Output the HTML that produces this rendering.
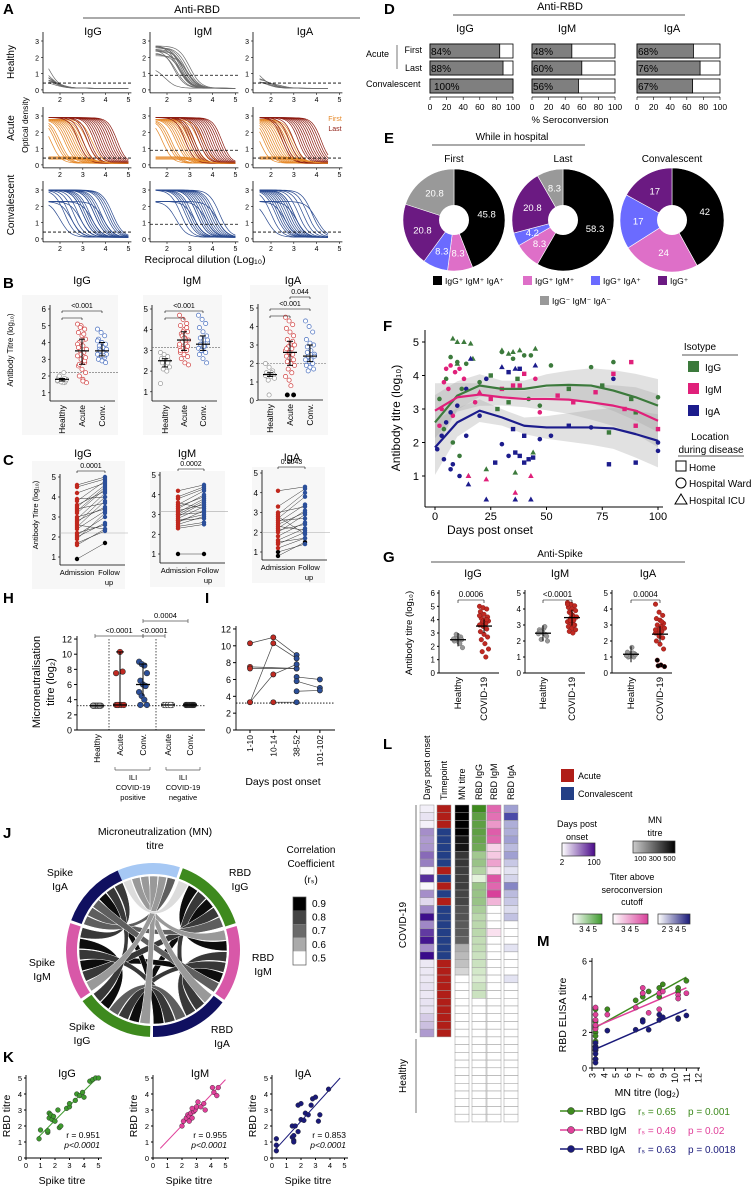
<!DOCTYPE html>
<html><head><meta charset="utf-8">
<style>
html,body{margin:0;padding:0;background:#fff}
svg{display:block;font-family:"Liberation Sans",sans-serif}
</style></head>
<body>
<svg id="fig" width="753" height="1188" viewBox="0 0 753 1188"></svg>
<script>
// ===== DATA =====
const aHealthyIgG=[[2.5,1.5],[1.4,1.6],[1.2,1.6],[1.0,1.7],[0.9,1.8],[0.8,1.7],[0.7,1.9],[0.6,2.0],[0.5,2.1],[0.5,1.8]];
const aHealthyIgM=[[2.7,2.5],[2.7,2.6],[2.6,2.7],[2.6,2.8],[2.6,2.9],[2.5,2.5],[2.5,2.7],[2.4,2.6],[2.4,2.8],[2.3,2.4],[2.2,2.6],[2.7,3.0],[2.1,2.9],[1.4,1.9],[2.5,2.3]];
const aHealthyIgA=[[1.4,1.6],[0.8,1.9],[0.7,2.0],[0.6,1.8],[0.5,2.2],[0.5,2.0],[0.45,2.4]];
const aAcuteRed=[[3.3,3.5,3.7,3.8,3.9,4.0,4.1,4.2,4.3,4.4,3.0,3.6,4.5,2.8,3.2],[3.0,3.2,3.4,3.6,3.8,4.0,4.1,4.2,4.3,2.8,3.5,3.9,4.4,3.1,3.7],[2.8,3.0,3.2,3.4,3.6,3.7,3.8,4.0,4.1,2.6,3.3,3.9,2.5,3.5,4.2]];
const aAcuteOrange=[[1.6,1.8,2.0,2.2,2.4,2.5,2.7,2.8,3.0,3.2,3.4,2.3,1.9,2.6,2.9],[1.8,2.0,2.2,2.4,2.6,2.8,3.0,3.2,3.4,2.5,2.9,2.1,3.6,2.7,3.1],[1.5,1.7,1.9,2.1,2.3,2.5,2.7,2.9,2.0,2.4,2.6,1.8,3.0,2.2,2.8]];
const aConv=[[2.0,2.2,2.4,2.6,2.8,2.9,3.0,3.1,3.2,3.3,3.4,3.5,3.6,3.7,3.8,3.9,4.0,4.1,4.2,4.3,2.5,3.0,3.5],[2.4,2.6,2.8,3.0,3.1,3.2,3.3,3.4,3.5,3.6,3.7,3.8,3.9,4.0,4.1,4.2,4.3,2.9,3.3,3.7],[1.8,2.0,2.2,2.4,2.5,2.6,2.7,2.8,2.9,3.0,3.1,3.2,3.4,3.6,3.8,4.0,2.3,2.6,3.0]];
const aCutoff=[0.42,0.9,0.42];
const bCats=["Healthy","Acute","Conv."];
const bIgG=[[1.7,1.8,1.6,1.9,1.8,1.7,2.0,1.6,1.8,1.7,2.2,1.75,1.65,1.85],[5.1,5.0,4.8,4.6,4.4,4.2,4.0,3.8,3.6,3.5,3.4,3.2,3.0,2.8,2.6,2.4,2.2,2.0,1.8,1.6,4.9,4.5,3.9,3.3,2.9,3.7,4.1,3.1,2.7,1.7],[4.8,4.6,4.4,4.2,4.0,3.9,3.8,3.7,3.6,3.5,3.4,3.3,3.2,3.1,3.0,2.9,2.8,3.6,3.4,3.3,3.5,3.2,4.1]];
const bIgM=[[2.9,2.8,2.7,2.6,2.5,2.5,2.4,2.3,2.2,2.1,2.0,1.4,2.6,2.4],[4.7,4.5,4.3,4.2,4.0,3.9,3.8,3.6,3.5,3.4,3.3,3.2,3.1,3.0,2.9,2.8,2.7,2.6,2.4,2.3,3.7,3.5,3.3,3.9,4.1,3.0,3.6,3.2],[4.7,4.5,4.3,4.1,3.9,3.7,3.6,3.5,3.4,3.3,3.2,3.1,3.0,2.9,2.8,2.6,2.4,3.3,3.2,3.5,3.0]];
const bIgA=[[2.0,1.8,1.6,1.5,1.4,1.4,1.3,1.3,1.2,1.1,1.5,1.35,0.3],[4.5,4.3,4.1,3.9,3.7,3.5,3.3,3.1,3.0,2.9,2.8,2.7,2.6,2.5,2.4,2.3,2.2,2.1,2.0,1.9,1.7,1.5,1.3,1.1,3.2,2.8,2.6,0.3,0.3,0.8],[4.3,4.0,3.7,3.3,3.1,3.0,2.9,2.7,2.5,2.4,2.3,2.2,2.1,2.0,1.9,1.8,1.7,2.6,2.2,2.4,1.6]];
const cIgG=[[0.9,1.7],[1.6,2.4],[1.7,2.3],[2.0,2.7],[2.2,2.6],[2.4,3.3],[2.5,3.8],[2.7,4.0],[2.9,4.2],[3.0,3.4],[3.2,4.4],[3.4,3.7],[3.5,4.6],[3.6,4.3],[3.8,4.8],[3.9,4.0],[4.5,4.9],[4.6,5.0],[2.1,3.0],[2.8,3.5],[3.3,4.5],[1.9,3.2],[4.2,4.7],[2.6,2.4]];
const cIgM=[[1.0,1.0],[2.3,2.5],[2.5,2.9],[2.6,3.2],[2.7,3.0],[2.8,3.4],[2.9,3.6],[3.0,3.1],[3.1,3.8],[3.2,3.5],[3.3,4.0],[3.5,4.2],[3.6,3.3],[3.8,4.3],[3.9,4.4],[4.2,4.5],[2.4,2.6],[3.0,3.7],[3.4,3.9],[2.7,2.8]];
const cIgA=[[0.8,1.5],[1.0,1.4],[1.2,1.7],[1.4,2.0],[1.6,2.2],[1.8,2.5],[2.0,2.9],[2.2,3.1],[2.3,2.1],[2.4,3.0],[2.5,3.4],[2.6,2.7],[2.7,3.8],[2.8,1.9],[3.0,3.3],[3.3,4.2],[4.1,4.3],[2.1,2.4],[1.5,1.7],[2.9,4.0]];
const dRows=["First","Last","Convalescent"];
const dIgG=[84,88,100],dIgM=[48,60,56],dIgA=[68,76,67];
const eFirst=[45.8,8.3,8.3,20.8,20.8];
const eLast=[58.3,8.3,4.2,20.8,8.3];
const eConv=[42,24,17,17,0];
const eColors=["#000","#de6fc8","#6b6bff","#6b1a82","#999"];
const fDays=[0,10,20,30,40,50,60,70,80,90,100];
const fIgG=[2.6,3.4,3.7,3.6,3.6,3.7,3.72,3.7,3.55,3.35,3.1];
const fIgM=[2.95,3.35,3.43,3.35,3.3,3.3,3.28,3.2,3.1,2.95,2.65];
const fIgA=[1.85,2.6,2.95,2.75,2.5,2.45,2.45,2.45,2.42,2.25,2.05];
const fPts=[[8,5.1,0,2],[10,5.0,0,2],[13,5.0,0,2],[16,4.95,0,2],[30,4.75,0,2],[33,4.65,0,2],[35,4.7,0,2],[38,4.75,0,2],[45,4.8,0,2],[17,4.5,0,2],[10,4.35,0,2],
[7,4.55,0,1],[10,4.4,0,1],[14,4.35,0,1],[30,4.7,0,1],[35,4.5,0,1],[40,4.6,0,1],[43,4.6,0,1],[52,4.3,0,1],[70,4.25,0,1],[80,4.4,0,1],[5,3.9,0,1],[12,3.6,0,1],[20,3.8,0,1],[25,4.0,0,0],[37,3.9,0,0],[42,3.3,0,1],[60,3.6,0,0],[75,3.7,0,0],[88,3.3,0,0],[100,3.35,0,1],[2,3.3,0,1],[4,2.4,0,1],[8,2.0,0,1],[11,1.6,0,1],[15,1.0,0,2],[23,1.2,0,2],[36,1.1,0,2],[44,1.7,0,2],[47,3.1,0,1],[78,2.3,0,0],[90,2.9,0,0],[28,3.0,0,0],[33,3.2,0,0],
[5,4.2,1,1],[7,4.3,1,1],[9,4.1,1,1],[11,4.2,1,1],[13,3.9,1,1],[4,3.8,1,1],[6,3.6,1,1],[88,4.4,1,0],[80,4.05,1,0],[72,3.5,1,0],[85,3.0,1,0],[90,2.5,1,0],[100,2.4,1,0],[30,3.6,1,0],[35,3.7,1,0],[38,3.7,1,0],[40,4.05,1,0],[45,3.9,1,1],[47,2.9,1,1],[20,3.5,1,2],[15,1.0,1,2],[23,0.9,1,2],[36,0.5,1,2],[43,1.0,1,2],[2,2.5,1,1],[18,3.2,1,1],[25,3.3,1,0],[55,3.4,1,0],[62,3.2,1,0],[8,2.8,1,1],[3,3.0,1,1],
[16,4.5,2,2],[30,4.25,2,2],[36,4.2,2,2],[45,4.3,2,2],[33,4.1,2,0],[38,4.2,2,0],[23,3.9,2,1],[14,3.6,2,1],[10,3.1,2,1],[7,2.9,2,1],[5,2.6,2,1],[3,2.2,2,1],[1,1.8,2,1],[4,1.5,2,1],[8,1.35,2,1],[11,1.0,2,1],[7,1.2,2,1],[14,2.2,2,1],[15,0.75,2,2],[23,0.3,2,2],[36,0.3,2,2],[43,0.3,2,2],[30,1.95,2,1],[33,1.6,2,1],[36,1.7,2,0],[38,1.6,2,0],[40,1.4,2,0],[42,1.5,2,0],[44,1.55,2,0],[27,1.4,2,0],[35,2.4,2,0],[40,2.2,2,0],[47,2.1,2,1],[52,2.2,2,1],[70,2.45,2,1],[78,1.35,2,0],[90,1.4,2,0],[100,1.75,2,1],[60,2.5,2,0],[80,3.9,2,1],[100,2.0,2,1],[20,2.8,2,1]];
const gIgG=[[2.5,2.6,2.7,2.4,2.8,2.5,2.6,2.3,1.9,2.9,2.2,2.55],[5.0,4.9,4.8,4.6,4.4,4.2,4.1,4.0,3.9,3.8,3.7,3.6,3.5,3.3,3.1,2.9,2.7,2.5,2.2,1.8,1.6,1.2,4.3,3.9,4.0]];
const gIgM=[[2.5,2.6,2.4,2.7,2.5,2.3,2.6,2.8,2.0,2.1,2.9,2.45],[4.4,4.3,4.2,4.1,4.0,3.9,3.8,3.6,3.5,3.4,3.3,3.2,3.1,3.0,2.9,2.8,2.7,2.6,2.5,3.5,3.3,3.0,4.3,3.7]];
const gIgA=[[1.1,1.2,1.0,1.3,1.1,1.2,1.0,1.6,1.15,1.05,1.25,1.1],[4.3,3.8,3.6,3.4,3.3,3.1,3.0,2.9,2.8,2.7,2.6,2.5,2.4,2.2,2.0,1.8,1.5,0.8,0.5,0.4,0.45,3.2,2.7,2.3]];
const hCats=["Healthy","Acute","Conv.","Acute","Conv."];
const hVals=[[3.2,3.2,3.2,3.2,3.2,3.2,3.2,3.2],[3.3,3.3,3.3,3.3,3.3,10.3,7.7,7.5],[9.0,8.7,8.5,7.5,6.5,6.0,5.8,5.0,4.5,4.0,3.3,3.3],[3.3,3.3,3.3,3.3,3.3,3.3,3.3],[3.3,3.3,3.3,3.3,3.3,3.3,3.3,3.3]];
const hMeans=[3.2,3.3,6.0,3.3,3.3];
const iCats=["1-10","10-14","38-52","101-102"];
const iLines=[[[0,10.3],[1,11],[2,8.9]],[[0,3.3],[1,10.3],[2,8.5]],[[0,7.5],[2,7.3]],[[0,7.3],[2,7.3]],[[0,3.3],[1,6.6],[2,7.8]],[[1,3.3],[2,3.3]],[[2,6.3],[3,6.0]],[[2,5.8],[3,5.0]],[[2,4.6],[3,4.7]]];
const kIgG=[[0.9,1.2],[1.0,1.75],[1.5,1.6],[1.5,1.7],[1.6,2.5],[1.6,2.8],[1.7,2.7],[1.8,2.4],[1.9,2.6],[2.0,2.3],[2.2,3.0],[2.3,1.9],[2.4,2.0],[2.8,3.1],[3.0,3.2],[3.0,3.4],[3.4,3.6],[3.5,4.0],[3.7,3.9],[3.9,4.1],[4.0,3.8],[4.4,4.8],[4.6,4.9],[4.8,5.0],[5.0,5.0]];
const kIgM=[[2.0,2.0],[2.1,2.3],[2.3,2.5],[2.4,2.7],[2.5,2.6],[2.6,2.8],[2.7,2.5],[2.8,2.9],[2.9,3.0],[3.0,3.2],[3.1,3.5],[3.3,3.2],[3.5,3.4],[3.6,3.0],[4.1,4.4],[4.2,4.1],[4.4,3.9],[4.5,4.4],[2.5,2.3],[2.7,3.1]];
const kIgA=[[0.3,1.2],[0.3,0.8],[0.3,0.45],[1.4,2.0],[1.4,1.3],[1.5,1.1],[1.5,1.0],[1.6,2.0],[1.8,1.65],[1.8,3.3],[2.0,3.4],[2.0,2.4],[2.2,2.35],[2.3,2.8],[2.5,2.7],[2.7,3.3],[2.8,3.7],[3.0,3.8],[3.2,2.3],[3.3,2.7],[3.9,4.3],[1.5,1.4]];
const lDays=[5,10,4,45,40,42,60,52,2,85,2,45,14,48,98,48,80,95,45,100,8,8,8,10,8,10,10,20,25,40];
const lTime=[0,0,0,1,1,1,1,1,0,1,0,1,0,1,1,1,1,1,1,1,0,0,0,0,0,0,0,0,0,0];
const lMN=[500,500,500,500,470,470,420,420,410,410,410,400,400,380,380,370,370,360,250,230,220,190,100,100,100,100,100,100,100,100];
const lIgG=[5,4.6,4.6,4.6,4.5,4.4,3.8,3.9,3.6,3.0,3.9,3.9,3.9,3.7,3.5,3.5,3.5,3.4,3.4,3.3,3.3,3.2,3.1,3.3,3.3,0,0,0,0,0];
const lIgM=[4.3,4.2,3.8,4.4,4.3,3.2,3.3,3.7,3.1,4.5,4.3,4.7,3.5,0,0,0,3.05,0,0,0,0,0,0,0,0,0,0,0,0,0];
const lIgA=[3.2,4.5,3.0,3.0,3.2,2.8,3.2,2.6,2.2,2.4,3.6,2.8,2.6,2.3,2.7,0,0,0,2.2,0,0,0,2.2,0,0,0,0,0,0,0];
const lHealthyRows=11;
const jSegs=["MN","RBD IgG","RBD IgM","RBD IgA","Spike IgG","Spike IgM","Spike IgA"];
const jCols=["#a6c8f4","#3e8a1e","#d858a8","#101060","#3e8a1e","#d858a8","#101060"];
const jStart=[-114,-70,-16,37,92,146,200];
const jEnd=[-72,-18,35,90,144,198,246];
const jRho=[[0,0.55,0.6,0.65,0.6,0.6,0.7],[0.55,0,0.9,0.8,0.95,0.8,0.75],[0.6,0.9,0,0.8,0.8,0.95,0.7],[0.65,0.8,0.8,0,0.75,0.8,0.9],[0.6,0.95,0.8,0.75,0,0.9,0.8],[0.6,0.8,0.95,0.8,0.9,0,0.85],[0.7,0.75,0.7,0.9,0.8,0.85,0]];
const mMN=[3.3,3.3,3.3,3.3,3.3,3.3,3.3,4.3,6.7,7.3,7.3,7.8,8.7,8.7,9.0,10.3,10.3,11.0];
const mIgG=[3.3,2.6,2.3,2.0,1.8,1.5,1.2,3.3,3.8,4.0,4.2,4.3,4.5,4.0,4.7,4.5,4.3,4.9];
const mIgM=[3.4,3.0,2.7,2.2,1.0,0.5,2.4,3.0,3.4,4.5,4.2,3.1,4.2,3.3,4.3,4.1,3.9,4.2];
const mIgA=[1.4,1.2,1.0,0.8,0.5,0.3,1.1,2.1,2.15,2.7,2.6,2.15,3.0,2.7,2.85,2.8,2.75,2.95];

// ===== DRAWING =====
const S=document.getElementById('fig');const NS='http://www.w3.org/2000/svg';
function E(t,a,p){const e=document.createElementNS(NS,t);for(const k in a)e.setAttribute(k,a[k]);(p||S).appendChild(e);return e;}
function T(x,y,s,o){o=o||{};const e=E('text',{x:x,y:y,'font-size':o.fs||9,'text-anchor':o.a||'middle',fill:o.c||'#000','font-weight':o.b?'bold':'normal'});if(o.i)e.setAttribute('font-style','italic');if(o.r)e.setAttribute('transform','rotate('+o.r+' '+x+' '+y+')');e.textContent=s;return e;}
function L(x1,y1,x2,y2,c,w,d){const e=E('line',{x1,y1,x2,y2,stroke:c||'#000','stroke-width':w||1});if(d)e.setAttribute('stroke-dasharray',d);return e;}
function R(x,y,w,h,f,st){const r=E('rect',{x,y,width:w,height:h,fill:f,stroke:st||'none','stroke-width':0.7});return r;}
function letter(s,x,y){T(x,y,s,{fs:15,b:true,a:'start',n:'panel-letter-'+s});}
function dot(x,y,r,f,st,sw){const c=E('circle',{cx:x,cy:y,r:r,fill:f,stroke:st||'none','stroke-width':sw||0.6});return c;}
function jit(k,n){return ((k*37)%n)-(n-1)/2;}

// ---- Panel A ----
letter('A',3,14);
T(197,13,'Anti-RBD',{fs:11});L(83,18,360,18,'#555',1);
const aAxisX=[43,150,253],aX2=[60,167,271],aY3=[41,116,190];
['IgG','IgM','IgA'].forEach((s,i)=>T([93,203,305][i],35,s,{fs:11}));
T(14,62,'Healthy',{fs:10,r:-90});T(14,128,'Acute',{fs:10,r:-90});T(14,205,'Convalescent',{fs:10,r:-90});
T(28,125,'Optical density',{fs:8.5,r:-90});
function sig(top,mid,x,sl){return 0.1+(top-0.1)/(1+Math.pow(10,(x-mid)*sl));}
for(let r=0;r<3;r++)for(let c=0;c<3;c++){
 const sx=v=>aX2[c]+(v-2)*22.8,sy=v=>aY3[r]+(3-v)*16.3,xa=aAxisX[c],xEnd=c==2?4.5:5;
 L(xa,sy(3)-9,xa,sy(0)+3,'#000',0.8);L(xa,sy(0)+3,sx(5)+3,sy(0)+3,'#000',0.8);
 [0,1,2,3].forEach(v=>{L(xa-2,sy(v),xa,sy(v),'#000',0.6);T(xa-4,sy(v)+3,v,{fs:7,a:'end'});});
 [2,3,4,5].forEach(v=>{L(sx(v),sy(0)+3,sx(v),sy(0)+5,'#000',0.6);T(sx(v),sy(0)+12,v,{fs:7});});
 let curves=[];
 if(r==0)(c==0?aHealthyIgG:c==1?aHealthyIgM:aHealthyIgA).forEach(p=>curves.push([p[0],p[1],'#6a6a6a',1.8]));
 else if(r==1){aAcuteOrange[c].forEach(m=>curves.push([2.8,m,'#e5892a',2.0]));aAcuteRed[c].forEach(m=>curves.push([2.9,m,'#8e1c12',2.2]));
  [0.45,0.4,0.35,0.5].forEach(t=>curves.push([t,3.5,'#e5892a',1.5]));}
 else aConv[c].forEach((m,k)=>curves.push([k%5==0?2.3:3.0,m,'#2a4a90',1.9]));
 curves.forEach(p=>{let d='';for(let x=1.5;x<=xEnd+0.001;x+=0.1)d+=(d?'L':'M')+sx(x).toFixed(1)+','+sy(sig(p[0],p[1],x,p[3])).toFixed(1);const e=E('path',{d:d,fill:'none',stroke:p[2],'stroke-width':0.7});});
 L(xa,sy(aCutoff[c]),sx(5)+3,sy(aCutoff[c]),'#000',0.8,'3,2');
 if(r==1&&c==2){T(335,121,'First',{fs:7,c:'#e5892a'});T(335,131,'Last',{fs:7,c:'#8e1c12'});}
}
T(205,263,'Reciprocal dilution (Log₁₀)',{fs:10.5,n:'x-axis-title'});

// ---- Panel B ----
letter('B',3,288);
const bBox=[[22,295,96,140],[143,295,79,140],[250,285,78,150]];
bBox.forEach(b=>R(b[0],b[1],b[2],b[3],'#f7f7f7'));
T(82,284,'IgG',{fs:11});T(192,284,'IgM',{fs:11});T(293,284,'IgA',{fs:11});
T(13,350,'Antibody Titre (log₁₀)',{fs:8,r:-90});
function bPanel(ax,gx,top,topY,unit,bot,ticks,groups,cut,brk){
 const sy=v=>topY+(top-v)*unit;
 L(ax,topY-4,ax,bot,'#000',0.8);L(ax,bot,ax+65,bot,'#000',0.8);
 ticks.forEach(v=>{L(ax-2,sy(v),ax,sy(v),'#000',0.6);T(ax-4,sy(v)+3,v,{fs:8,a:'end'});});
 L(ax,sy(cut),ax+68,sy(cut),'#666',0.6,'2,1');
 const cols=['#999','#d04040','#4a70c0'];
 groups.forEach((g,i)=>{g.forEach((v,k)=>{const low=v<1.1&&i<2&&v<=Math.min(...g)+0.01&&i==1;const yy=sy(Math.max(v,bot==401?0.6:0.2));
  dot(gx[i]+jit(k,11)*0.9,Math.min(yy,bot-2),2.1,low?'#000':'#fff',low?'#000':cols[i],0.7);});
  const srt=[...g].sort((a,b)=>a-b),med=srt[Math.floor(srt.length/2)],q1=srt[Math.floor(srt.length*0.25)],q3=srt[Math.floor(srt.length*0.75)];
  L(gx[i]-7,sy(med),gx[i]+7,sy(med),'#000',1.2);L(gx[i],sy(q1),gx[i],sy(q3),'#000',1);L(gx[i]-3,sy(q1),gx[i]+3,sy(q1),'#000',1);L(gx[i]-3,sy(q3),gx[i]+3,sy(q3),'#000',1);
  T(gx[i]+3,bot+4,bCats[i],{fs:8.5,a:'end',r:-90});});
 brk.forEach(b=>{L(gx[b[0]],b[2],gx[b[1]],b[2],'#000',0.6);L(gx[b[0]],b[2],gx[b[0]],b[2]+2,'#000',0.6);L(gx[b[1]],b[2],gx[b[1]],b[2]+2,'#000',0.6);if(b[3])T((gx[b[0]]+gx[b[1]])/2,b[2]-3,b[3],{fs:7});});
}
bPanel(50,[62,82,102],6,309,16.75,401,[1,2,3,4,5,6],bIgG,2.2,[[0,2,311,'<0.001'],[0,1,318,'']]);
bPanel(152,[165,184,203],5,309,20.7,401,[1,2,3,4,5],bIgM,3.15,[[0,2,311,'<0.001'],[0,1,318,'']]);
bPanel(258,[270,290,310],5,308,18.5,400,[0,1,2,3,4,5],bIgA,2.0,[[1,2,297,'0.044'],[0,2,309,'<0.001'],[0,1,316,'']]);

// ---- Panel C ----
letter('C',3,465);
[[32,461,93,128],[150,471,75,116],[252,467,73,116]].forEach(b=>R(b[0],b[1],b[2],b[3],'#f7f7f7'));
T(83,457,'IgG',{fs:11});T(187,457,'IgM',{fs:11});T(292,461,'IgA',{fs:11});
T(38,515,'Antibody Titre (log₁₀)',{fs:7.5,r:-90});
function cPanel(ax,topY,unit,bot,xa,xb,pairs,p,cut){
 const sy=v=>topY+(5-v)*unit;
 L(ax,topY-3,ax,bot,'#000',0.8);L(ax,bot,ax+65,bot,'#000',0.8);
 [1,2,3,4,5].forEach(v=>{L(ax-2,sy(v),ax,sy(v),'#000',0.6);T(ax-4,sy(v)+3,v,{fs:8,a:'end'});});
 L(ax,sy(cut),ax+68,sy(cut),'#aaa',0.6);
 pairs.forEach(q=>L(xa,sy(q[0]),xb,sy(q[1]),'#333',0.5));
 pairs.forEach(q=>{dot(xa,sy(q[0]),2.2,q[0]<1.05?'#000':'#c0281e');dot(xb,sy(q[1]),2.2,q[1]<1.05||q[1]<1.75&&q[0]<1?'#000':'#2b4f9a');});
 L(xa,sy(5)-6,xb,sy(5)-6,'#000',0.6);L(xa,sy(5)-6,xa,sy(5)-4,'#000',0.6);L(xb,sy(5)-6,xb,sy(5)-4,'#000',0.6);T((xa+xb)/2,sy(5)-9,p,{fs:7});
 T(xa,bot+10,'Admission',{fs:7.5});T(xb+4,bot+10,'Follow',{fs:7.5});T(xb+4,bot+20,'up',{fs:7.5});
}
cPanel(60,477,20,565,77,105,cIgG,'0.0001',2.2);
cPanel(160,475,19.75,563,178,204,cIgM,'0.0002',3.15);
cPanel(262,473,19.75,560,278,305,cIgA,'0.0043',2.0);

// ---- Panel D ----
letter('D',384,14);
T(560,10,'Anti-RBD',{fs:11});L(453,15,685,15,'#555',1);
const dX=[430,532,637],dW=83,dY=[44,61,79],dH=14;
['IgG','IgM','IgA'].forEach((s,i)=>T([465,567,672][i],32,s,{fs:11}));
T(366,57,'Acute',{fs:9,a:'start'});T(422,53,'First',{fs:9,a:'end'});T(422,71,'Last',{fs:9,a:'end'});T(366,87,'Convalescent',{fs:9,a:'start'});
L(397,45,397,69,'#555',0.8);
[dIgG,dIgM,dIgA].forEach((arr,i)=>{const sx=v=>dX[i]+v/100*dW;
 arr.forEach((v,k)=>{const y=dY[k];
  const b0=E('rect',{x:dX[i],y:y,width:dW,height:dH,fill:'#fff',stroke:'#000','stroke-width':0.8});
  const b=E('rect',{x:dX[i],y:y,width:sx(v)-dX[i],height:dH,fill:'#7f7f7f',stroke:'#000','stroke-width':0.8});
  T(dX[i]+(v==100?4:1),y+11,v+'%',{fs:10,a:'start'});});
 L(dX[i],97,dX[i]+dW,97,'#000',0.8);[0,20,40,60,80,100].forEach(t=>{L(sx(t),97,sx(t),100,'#000',0.6);T(sx(t),110,t,{fs:8.5});});});
T(570,123,'% Seroconversion',{fs:9.5});

// ---- Panel E ----
letter('E',384,143);
T(512,140,'While in hospital',{fs:10});L(432,145,585,145,'#555',1);
function pie(cx,cy,R0,vals,title){T(cx,162,title,{fs:10});let a=-Math.PI/2;
 const tot=vals.reduce((s,v)=>s+v,0);
 vals.forEach((v,i)=>{if(!v)return;const a2=a+v/tot*2*Math.PI;const big=a2-a>Math.PI?1:0;
  const d='M'+cx+','+cy+'L'+(cx+R0*Math.cos(a))+','+(cy+R0*Math.sin(a))+'A'+R0+','+R0+' 0 '+big+' 1 '+(cx+R0*Math.cos(a2))+','+(cy+R0*Math.sin(a2))+'Z';
  const p=E('path',{d:d,fill:eColors[i],stroke:'#fff','stroke-width':0.6});
  const m=(a+a2)/2;T(cx+R0*0.65*Math.cos(m),cy+R0*0.65*Math.sin(m)+3.5,String(v),{fs:9.5,c:'#fff'});a=a2;});
 const h=E('circle',{cx:cx,cy:cy,r:15,fill:'#fff'});}
pie(454,220,51,eFirst,'First');pie(563,220,51,eLast,'Last');pie(672,220,52,eConv,'Convalescent');
const eLeg=[['IgG⁺ IgM⁺ IgA⁺',0,433,284],['IgG⁺ IgM⁺',1,523,284],['IgG⁺ IgA⁺',2,591,284],['IgG⁺',3,658,284],['IgG⁻ IgM⁻ IgA⁻',4,540,304]];
eLeg.forEach(l=>{const r=E('rect',{x:l[2],y:l[3]-8,width:9,height:9,fill:eColors[l[1]]});T(l[2]+12,l[3],l[0],{fs:8.5,a:'start'});});

// ---- Panel F ----
letter('F',383,331);
const fsx=v=>435+v*2.23,fsy=v=>509.5-v*33.5;
L(425,330,425,507,'#000',1);L(425,507,663,507,'#000',1);
[1,2,3,4,5].forEach(v=>{L(422,fsy(v),425,fsy(v));T(419,fsy(v)+4,v,{fs:11,a:'end'});});
[0,25,50,75,100].forEach(v=>{L(fsx(v),507,fsx(v),510);T(fsx(v),520,v,{fs:11});});
T(400,418,'Antibody titre (log₁₀)',{fs:12,r:-90});T(490,534,'Days post onset',{fs:12});
const fCol=['#3c7a3c','#e0207a','#1c1c8c'];
[fIgG,fIgM,fIgA].forEach((arr,j)=>{let up='';fDays.forEach((d,i)=>{const w=0.2+Math.abs(d-35)/110+(d<5?0.3:0);up+=(up?'L':'M')+fsx(d)+','+fsy(arr[i]+w);});
 for(let i=fDays.length-1;i>=0;i--){const w=0.2+Math.abs(fDays[i]-35)/110+(fDays[i]<5?0.3:0);up+='L'+fsx(fDays[i])+','+fsy(arr[i]-w);}
 const b=E('path',{d:up+'Z',fill:'#aaa','fill-opacity':0.35});});
fPts.forEach(p=>{const x=fsx(p[0]),y=fsy(p[1]),c=fCol[p[2]];
 if(p[3]==0){const r=E('rect',{x:x-2.2,y:y-2.2,width:4.4,height:4.4,fill:c});}
 else if(p[3]==1)dot(x,y,2.3,c);else{const t=E('path',{d:`M${x},${y-3}L${x+2.8},${y+2}L${x-2.8},${y+2}Z`,fill:c});}});
[fIgG,fIgM,fIgA].forEach((arr,j)=>{let d='';fDays.forEach((dd,i)=>d+=(d?'L':'M')+fsx(dd)+','+fsy(arr[i]));const p=E('path',{d:d,fill:'none',stroke:fCol[j],'stroke-width':2.2,'stroke-linejoin':'round'});});
T(700,350,'Isotype',{fs:10});L(682,355,738,355,'#555',1);
['IgG','IgM','IgA'].forEach((s,i)=>{const r=E('rect',{x:688,y:361+i*22,width:11,height:11,fill:fCol[i]});T(705,371+i*22,s,{fs:10,a:'start'});});
T(710,440,'Location',{fs:10});T(711,453,'during disease',{fs:10});L(678,456,744,456,'#555',1);
E('rect',{x:676,y:461,width:10,height:10,fill:'none',stroke:'#000'});T(689,471,'Home',{fs:10,a:'start'});
E('circle',{cx:681,cy:483,r:5,fill:'none',stroke:'#000'});T(689,487,'Hospital Ward',{fs:10,a:'start'});
E('path',{d:'M681,494L687,504L675,504Z',fill:'none',stroke:'#000'});T(689,504,'Hospital ICU',{fs:10,a:'start'});

// ---- Panel G ----
letter('G',383,562);
T(560,557,'Anti-Spike',{fs:10});L(431,562,685,562,'#555',1);
T(412,633,'Antibody titre (log₁₀)',{fs:9.5,r:-90});
function gPanel(ax,top,gh,gc,title,tx,groups,p){const sy=v=>673-v*(80/top);T(tx,577,title,{fs:11});
 L(ax,590,ax,673,'#000',0.9);L(ax,673,ax+60,673,'#000',0.9);
 for(let v=0;v<=top;v++){L(ax-2,sy(v),ax,sy(v));T(ax-4,sy(v)+3,v,{fs:8,a:'end'});}
 groups.forEach((g,i)=>{const cx=i?gc:gh;g.forEach((v,k)=>dot(cx+jit(k,11)*0.9,sy(v),2.3,i?(v<0.9?'#000':'#c02a22'):'#999',i?'#7a1010':'#666',0.4));
  const m=g.reduce((a,b)=>a+b,0)/g.length;L(cx-8,sy(m),cx+8,sy(m),'#000',1.3);L(cx,sy(m-0.5),cx,sy(m+0.5),'#000',1);});
 const by=sy(top)+7;L(gh,by,gc,by,'#000',0.6);L(gh,by,gh,by+3,'#000',0.6);L(gc,by,gc,by+3,'#000',0.6);T((gh+gc)/2,by-3,p,{fs:8});
 T(gh+3,677,'Healthy',{fs:9.5,a:'end',r:-90});T(gc+3,677,'COVID-19',{fs:9.5,a:'end',r:-90});}
gPanel(439,6,458,484,'IgG',473,gIgG,'0.0006');gPanel(525,5,543,572,'IgM',560,gIgM,'<0.0001');gPanel(612,5,631,660,'IgA',648,gIgA,'0.0004');

// ---- Panel H ----
letter('H',3,603);
const hsy=v=>730-v*7.58,hX=[97,120,143,168,190];
L(77,636,77,730,'#000',0.9);L(77,730,205,730,'#000',0.9);
[0,2,4,6,8,10,12].forEach(v=>{L(74,hsy(v),77,hsy(v));T(72,hsy(v)+3.5,v,{fs:9,a:'end'});});
T(40,682,'Microneutralisation',{fs:11,r:-90});T(54,682,'titre (log₂)',{fs:11,r:-90});
L(77,hsy(3.2),205,hsy(3.2),'#000',0.8,'1.5,1.5');
L(109,639,109,730,'#000',0.7,'1.5,1.5');L(156,639,156,730,'#000',0.7,'1.5,1.5');
const hFill=['#999','#c02a22','#2b4f9a','#fff','#222'];
hVals.forEach((g,i)=>{g.forEach((v,k)=>dot(hX[i]+jit(k,7)*1.3,hsy(v),2.8,hFill[i],'#333',0.6));
 L(hX[i]-7,hsy(hMeans[i]),hX[i]+7,hsy(hMeans[i]),'#000',1.3);
 T(hX[i]+3,734,hCats[i],{fs:8.5,a:'end',r:-90});});
L(120,hsy(3.3),120,hsy(10.3),'#000',1);L(116,hsy(10.3),124,hsy(10.3),'#000',1);L(143,hsy(4.5),143,hsy(8.7),'#000',1);L(139,hsy(8.7),147,hsy(8.7),'#000',1);
function brk(x1,x2,y,t){L(x1,y,x2,y,'#555',0.7);L(x1,y-2,x1,y+2,'#555',0.7);L(x2,y-2,x2,y+2,'#555',0.7);T((x1+x2)/2,y-3,t,{fs:7.5});}
brk(95,143,636,'<0.0001');brk(143,165,636,'<0.0001');brk(143,188,621,'0.0004');
L(115,770,150,770,'#555',0.7);L(115,767,115,770,'#555',0.7);L(150,767,150,770,'#555',0.7);
L(166,770,200,770,'#555',0.7);L(166,767,166,770,'#555',0.7);L(200,767,200,770,'#555',0.7);
T(133,780,'ILI',{fs:7.5});T(133,790,'COVID-19',{fs:7.5});T(133,800,'positive',{fs:7.5});
T(183,780,'ILI',{fs:7.5});T(183,790,'COVID-19',{fs:7.5});T(183,800,'negative',{fs:7.5});

// ---- Panel I ----
letter('I',205,603);
const isy=v=>730-v*8.42,isx=i=>250+i*23.3;
L(236,626,236,730,'#000',0.9);L(236,730,335,730,'#000',0.9);
[0,2,4,6,8,10,12].forEach(v=>{L(233,isy(v),236,isy(v));T(231,isy(v)+3.5,v,{fs:9,a:'end'});});
L(236,isy(3.2),335,isy(3.2),'#000',0.8,'1.5,1.5');
iLines.forEach(ln=>{let d='';ln.forEach(p=>d+=(d?'L':'M')+isx(p[0])+','+isy(p[1]));const e=E('path',{d:d,fill:'none',stroke:'#444','stroke-width':0.7});});
iLines.forEach(ln=>ln.forEach(p=>dot(isx(p[0]),isy(p[1]),2.6,p[0]<2?'#c02a22':'#2b4f9a','#222',0.6)));
iCats.forEach((c,i)=>{L(isx(i),730,isx(i),733);T(isx(i)+3,735,c,{fs:8.5,a:'end',r:-90});});
T(283,785,'Days post onset',{fs:10.5});

// ---- Panel J ----
letter('J',3,838);
T(155,835,'Microneutralization (MN)',{fs:10.5});T(155,849,'titre',{fs:10.5});
const jcx=153,jcy=950,jR=74,jRi=76,jRo=87;
const rad=d=>d*Math.PI/180,P=(r,a)=>(jcx+r*Math.cos(rad(a))).toFixed(1)+','+(jcy+r*Math.sin(rad(a))).toFixed(1);
jSegs.forEach((s,i)=>{const a1=jStart[i],a2=jEnd[i];
 const d=`M${P(jRi,a1)}A${jRi},${jRi} 0 0 1 ${P(jRi,a2)}L${P(jRo,a2)}A${jRo},${jRo} 0 0 0 ${P(jRo,a1)}Z`;
 const p=E('path',{d:d,fill:jCols[i]});});
const jShade=v=>v>=0.9?'#0d0d0d':v>=0.8?'#383838':v>=0.7?'#5e5e5e':v>=0.6?'#999':'#dcdcdc';
function slot(i,j){const span=jEnd[i]-jStart[i],k=j>i?j-1:j;const s=jStart[i]+span*k/6;return [s+0.3,s+span/6-0.3];}
const jPairs=[];for(let i=0;i<7;i++)for(let j=i+1;j<7;j++)jPairs.push([i,j]);
jPairs.sort((p,q)=>jRho[q[0]][q[1]]-jRho[p[0]][p[1]]);
jPairs.forEach(([i,j])=>{const a=slot(i,j),b=slot(j,i),k=0.4;
 const d=`M${P(jR,a[0])}A${jR},${jR} 0 0 1 ${P(jR,a[1])}C${P(jR*k,a[1])} ${P(jR*k,b[0])} ${P(jR,b[0])}A${jR},${jR} 0 0 1 ${P(jR,b[1])}C${P(jR*k,b[1])} ${P(jR*k,a[0])} ${P(jR,a[0])}Z`;
 const p=E('path',{d:d,fill:jShade(jRho[i][j]),stroke:'#fff','stroke-width':0.5});});
T(60,876,'Spike',{fs:10.5});T(60,890,'IgA',{fs:10.5});T(240,876,'RBD',{fs:10.5});T(240,890,'IgG',{fs:10.5});
T(263,961,'RBD',{fs:10.5});T(263,975,'IgM',{fs:10.5});T(42,966,'Spike',{fs:10.5});T(42,980,'IgM',{fs:10.5});
T(82,1030,'Spike',{fs:10.5});T(82,1044,'IgG',{fs:10.5});T(222,1033,'RBD',{fs:10.5});T(222,1047,'IgA',{fs:10.5});
T(311,853,'Correlation',{fs:10});T(311,867,'Coefficient',{fs:10});T(311,883,'(rₛ)',{fs:10});
['#000','#444','#6a6a6a','#aaa','#fff'].forEach((c,i)=>{R(293,897+i*13.6,13,13.6,c);T(312,907+i*13.6,['0.9','0.8','0.7','0.6','0.5'][i],{fs:10,a:'start'});});
R(293,897,13,68,'none','#555');

// ---- Panel K ----
letter('K',3,1062);
function kPanel(ax,title,tx,pts,col,l0,l1,r,p){const sx=v=>ax+v*14.5,sy=v=>1158-v*16;
 T(tx,1077,title,{fs:11});L(ax,1075,ax,1158,'#000',0.9);L(ax,1158,ax+76,1158,'#000',0.9);
 [0,1,2,3,4,5].forEach(v=>{L(ax-2,sy(v),ax,sy(v));T(ax-4,sy(v)+3,v,{fs:7.5,a:'end'});L(sx(v),1158,sx(v),1160);T(sx(v),1168,v,{fs:7.5});});
 L(sx(l0[0]),sy(l0[1]),sx(l1[0]),sy(l1[1]),col,1);pts.forEach(q=>dot(sx(q[0]),sy(q[1]),2.4,col,'#222',0.4));
 T(ax+74,1138,'r = '+r,{fs:8.5,a:'end'});T(ax+74,1148,p,{fs:8.5,a:'end',i:true});
 T(ax+36,1184,'Spike titre',{fs:10.5});T(ax-16,1116,'RBD titre',{fs:10.5,r:-90});}
kPanel(26,'IgG',67,kIgG,'#3e9a2e',[0.8,1.25],[5,5.1],'0.951','p<0.0001');
kPanel(153,'IgM',200,kIgM,'#e0409a',[0.5,0.6],[5,4.9],'0.955','p<0.0001');
kPanel(272,'IgA',303,kIgA,'#1a1a7a',[0.3,0.6],[4.7,5.0],'0.853','p<0.0001');

// ---- Panel L ----
letter('L',383,749);
const lCols=[420,437,455,472,487,504],lW=14,ly0=805,lRH=7.73;
['Days post onset','Timepoint','MN titre','RBD IgG','RBD IgM','RBD IgA'].forEach((s,i)=>T(lCols[i]+lW/2+3,800,s,{fs:9,a:'start',r:-90}));
function cell(x,y,f){const r=E('rect',{x:x,y:y,width:lW,height:lRH,fill:f,stroke:'#999','stroke-width':0.5});}
function mix(a,b,t){t=Math.max(0,Math.min(1,t));const h=s=>[1,3,5].map(k=>parseInt(s.substr(k,2),16));const A=h(a),B=h(b);return 'rgb('+A.map((v,i)=>Math.round(v+(B[i]-v)*t)).join(',')+')';}
lDays.forEach((d,i)=>{const y=ly0+i*lRH;cell(lCols[0],y,mix('#f8f6fb','#3a0a8a',(d-2)/98));cell(lCols[1],y,lTime[i]?'#233f86':'#b01e18');
 cell(lCols[2],y,lMN[i]>100?mix('#dddddd','#000000',(lMN[i]-180)/320):'#fff');
 cell(lCols[3],y,lIgG[i]?mix('#e4f2dc','#3e8a1e',(lIgG[i]-3)/2):'#fff');
 cell(lCols[4],y,lIgM[i]?mix('#fbe6f2','#d8409a',(lIgM[i]-3)/1.7):'#fff');
 cell(lCols[5],y,lIgA[i]?mix('#f0f0f8','#4a4aa8',(lIgA[i]-2)/2.5):'#fff');});
for(let k=0;k<lHealthyRows;k++){const y=ly0+(lDays.length+k)*lRH;for(let c=2;c<6;c++)cell(lCols[c],y,'#fff');}
L(416,805,416,1033,'#777',1);T(406,925,'COVID-19',{fs:10,r:-90});L(416,1039,416,1113,'#777',1);T(406,1076,'Healthy',{fs:10,r:-90});
R(561,769,13,13,'#b01e18');T(578,779,'Acute',{fs:9,a:'start'});
R(561,787,13,13,'#233f86');T(578,797,'Convalescent',{fs:9,a:'start'});
T(577,827,'Days post',{fs:9});T(577,840,'onset',{fs:9});T(655,823,'MN',{fs:9});T(655,836,'titre',{fs:9});
function grad(id,c1,c2,x,y,w,h){const g=E('linearGradient',{id:id});E('stop',{offset:0,'stop-color':c1},g);E('stop',{offset:1,'stop-color':c2},g);const r=E('rect',{x:x,y:y,width:w,height:h,fill:'url(#'+id+')',stroke:'#333','stroke-width':0.7});}
grad('gd','#fff','#4a0a8a',562,843,33,13);T(562,865,'2',{fs:8});T(594,865,'100',{fs:8});
grad('gm','#ccc','#000',633,841,42,12);T(634,861,'100 300 500',{fs:7.5,a:'start'});
T(632,880,'Titer above',{fs:9});T(632,893,'seroconversion',{fs:9});T(632,905,'cutoff',{fs:9});
grad('gg','#fff','#3e9a2e',573,914,29,10);grad('gi','#fff','#d8409a',613,914,35,10);grad('ga','#fff','#1a1a7a',658,914,32,10);
T(588,932,'3 4 5',{fs:8});T(630,932,'3    4    5',{fs:8});T(674,932,'2 3 4 5',{fs:8});

// ---- Panel M ----
letter('M',537,946);
const msx=v=>592+(v-3)*11.8,msy=v=>1068-v*17.8;
L(592,958,592,1068,'#000',0.9);L(592,1068,700,1068,'#000',0.9);
[0,2,4,6].forEach(v=>{L(589,msy(v),592,msy(v));T(587,msy(v)+3.5,v,{fs:9,a:'end'});});
[3,4,5,6,7,8,9,10,11,12].forEach(v=>{L(msx(v),1068,msx(v),1071);T(msx(v)+3.5,1073,v,{fs:9,a:'end',r:-90});});
T(566,1015,'RBD ELISA titre',{fs:10.5,r:-90});T(647,1096,'MN titre (log₂)',{fs:10.5});
const mCol=['#3e8a1e','#e0409a','#1a1a7a'];
[mIgG,mIgM,mIgA].forEach((arr,j)=>{
 const n=arr.length,mx=mMN.reduce((a,b)=>a+b)/n,my=arr.reduce((a,b)=>a+b)/n;let sxy=0,sxx=0;mMN.forEach((x,i)=>{sxy+=(x-mx)*(arr[i]-my);sxx+=(x-mx)*(x-mx);});const b=sxy/sxx,a=my-b*mx;
 L(msx(3.3),msy(a+b*3.3),msx(11),msy(a+b*11),mCol[j],1.5);});
[mIgG,mIgM,mIgA].forEach((arr,j)=>arr.forEach((v,i)=>dot(msx(mMN[i]),msy(v),2.6,mCol[j],'#222',0.4)));
[['RBD IgG','rₛ = 0.65','p = 0.001'],['RBD IgM','rₛ = 0.49','p = 0.02'],['RBD IgA','rₛ = 0.63','p = 0.0018']].forEach((r,i)=>{const y=1115+i*19;
 L(560,y-4,583,y-4,mCol[i],1.5);dot(571,y-4,3.5,mCol[i],'#222',0.5);T(583+3,y,r[0],{fs:10,a:'start'});T(638,y,r[1],{fs:10,a:'start',c:mCol[i]});T(688,y,r[2],{fs:10,a:'start',c:mCol[i]});});
</script>
</body></html>
